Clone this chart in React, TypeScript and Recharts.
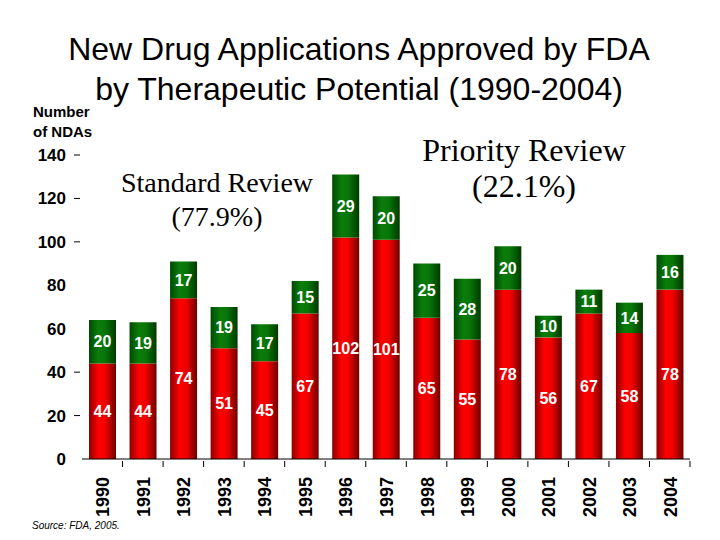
import React from 'react'
import { BarChart, Bar, XAxis, YAxis, LabelList } from 'recharts'

const years = ['1990', '1991', '1992', '1993', '1994', '1995', '1996', '1997', '1998', '1999', '2000', '2001', '2002', '2003', '2004']
const standard = [44, 44, 74, 51, 45, 67, 102, 101, 65, 55, 78, 56, 67, 58, 78]
const priority = [20, 19, 17, 19, 17, 15, 29, 20, 25, 28, 20, 10, 11, 14, 16]
const yTicks = [0, 20, 40, 60, 80, 100, 120, 140]
const noDash = [0, 60, 80]

const data = years.map((year, i) => ({ year, standard: standard[i], priority: priority[i] }))

const FONT = 'Arial, "Liberation Sans", sans-serif'
const SERIF = '"Times New Roman", "Liberation Serif", serif'

function YTick(props: any) {
  const { x, y, payload } = props
  return (
    <g>
      <text x={x - 14} y={y} dy={6} textAnchor="end" fontFamily={FONT} fontWeight="bold" fontSize={17} fill="#000">
        {payload.value}
      </text>
      {!noDash.includes(payload.value) && <line x1={x - 6} x2={x} y1={y} y2={y} stroke="#000" strokeWidth={1} />}
    </g>
  )
}

function XTick(props: any) {
  const { x, y, payload, index } = props
  const half = 20.25
  return (
    <g>
      {index > 0 && <line x1={x - half} x2={x - half} y1={y} y2={y + 6} stroke="#000" />}
      {index === years.length - 1 && <line x1={x + half} x2={x + half} y1={y} y2={y + 6} stroke="#000" />}
      <text
        x={0}
        y={0}
        transform={`translate(${x + 7}, ${y + 16}) rotate(-90)`}
        textAnchor="end"
        fontFamily={FONT}
        fontWeight="bold"
        fontSize={18}
        fill="#000"
      >
        {payload.value}
      </text>
    </g>
  )
}

const labelStyle = { fontFamily: FONT, fontWeight: 'bold' as const, fontSize: 16, fill: '#fff' }

export default function App() {
  return (
    <div style={{ position: 'absolute', left: 0, top: 0, width: 720, height: 540, background: '#fff', fontFamily: FONT }}>
      <div style={{ position: 'absolute', left: 0, top: 29, width: 718, textAlign: 'center', fontSize: 32, lineHeight: '40px', color: '#000' }}>
        New Drug Applications Approved by FDA
        <br />
        by Therapeutic Potential (1990-2004)
      </div>
      <div style={{ position: 'absolute', left: 33, top: 102, fontSize: 15, fontWeight: 'bold', lineHeight: '20px' }}>
        Number
        <br />
        of NDAs
      </div>
      <div style={{ position: 'absolute', left: 96, top: 166, width: 242, textAlign: 'center', fontFamily: SERIF, fontSize: 28, lineHeight: '34px' }}>
        Standard Review
        <br />
        (77.9%)
      </div>
      <div style={{ position: 'absolute', left: 400, top: 132, width: 248, textAlign: 'center', fontFamily: SERIF, fontSize: 32, lineHeight: '36px' }}>
        Priority Review
        <br />
        (22.1%)
      </div>
      <div style={{ position: 'absolute', left: 32, top: 520, fontSize: 10, fontStyle: 'italic' }}>Source: FDA, 2005.</div>
      <BarChart width={720} height={540} data={data} margin={{ top: 155, right: 30, bottom: 51, left: 0 }} barSize={27}>
        <defs>
          <linearGradient id="redGrad" x1="0" y1="0" x2="1" y2="0">
            <stop offset="0%" stopColor="#8a0000" />
            <stop offset="35%" stopColor="#ff0000" />
            <stop offset="60%" stopColor="#f20000" />
            <stop offset="100%" stopColor="#6e0000" />
          </linearGradient>
          <linearGradient id="greenGrad" x1="0" y1="0" x2="1" y2="0">
            <stop offset="0%" stopColor="#004a00" />
            <stop offset="35%" stopColor="#0b7d0b" />
            <stop offset="60%" stopColor="#087508" />
            <stop offset="100%" stopColor="#003a00" />
          </linearGradient>
        </defs>
        <XAxis dataKey="year" height={30} axisLine={{ stroke: '#000' }} tickLine={false} tickSize={0} tick={<XTick />} interval={0} />
        <YAxis width={82} domain={[0, 140]} ticks={yTicks} axisLine={false} tickLine={false} tickSize={0} tick={<YTick />} />
        <Bar dataKey="standard" stackId="a" fill="url(#redGrad)" isAnimationActive={false}>
          <LabelList dataKey="standard" position="center" style={labelStyle} />
        </Bar>
        <Bar dataKey="priority" stackId="a" fill="url(#greenGrad)" isAnimationActive={false}>
          <LabelList dataKey="priority" position="center" style={labelStyle} />
        </Bar>
      </BarChart>
    </div>
  )
}
